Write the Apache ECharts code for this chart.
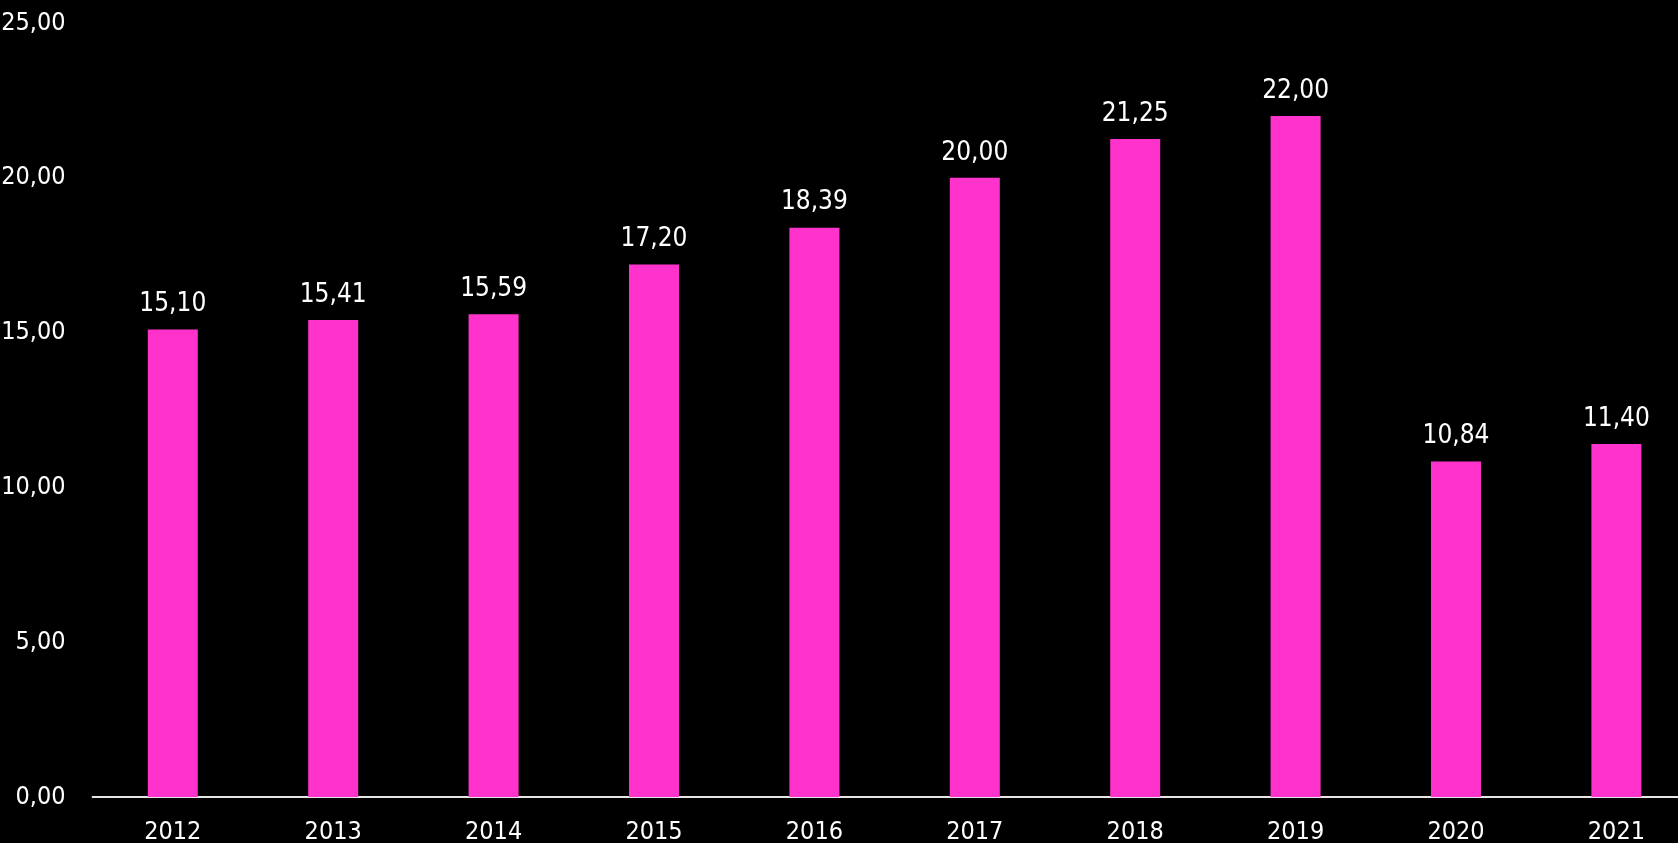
<!DOCTYPE html>
<html>
<head>
<meta charset="utf-8">
<script src="https://cdn.jsdelivr.net/npm/echarts@6/dist/echarts.min.js"></script>
<style>
html,body{margin:0;padding:0;background:#000;}
#c{width:1678px;height:843px;}
</style>
</head>
<body>
<div id="c"></div>
<script>
const categories = ['2012','2013','2014','2015','2016','2017','2018','2019','2020','2021'];
const values = [15.10, 15.41, 15.59, 17.20, 18.39, 20.00, 21.25, 22.00, 10.84, 11.40];
const yTicks = [0, 5, 10, 15, 20, 25];

const FONT = '"Liberation Sans Narrow", "DejaVu Sans Condensed", "Noto Sans", sans-serif';
const fmt = v => Number(v).toFixed(2).replace('.', ',');

const chart = echarts.init(document.getElementById('c'));
chart.setOption({
  backgroundColor: '#000000',
  animation: false,
  grid: { left: 92.6, width: 1604, top: 23, bottom: 46, containLabel: false, outerBoundsMode: 'none' },
  xAxis: {
    type: 'category',
    data: categories,
    axisLine: { show: true, lineStyle: { color: '#e6e6e6', width: 2 } },
    axisTick: { show: false },
    axisLabel: { color: '#ffffff', fontFamily: FONT, fontSize: 25, margin: 23 }
  },
  yAxis: {
    type: 'value',
    min: yTicks[0],
    max: yTicks[yTicks.length - 1],
    interval: yTicks[1] - yTicks[0],
    splitLine: { show: false },
    axisLine: { show: false },
    axisTick: { show: false },
    axisLabel: { color: '#ffffff', fontFamily: FONT, fontSize: 25, margin: 27, formatter: v => fmt(v) }
  },
  series: [{
    type: 'bar',
    data: values,
    barWidth: 50,
    itemStyle: { color: '#ff33cc' },
    label: {
      show: true,
      position: 'top',
      distance: 12,
      color: '#ffffff',
      fontFamily: FONT,
      fontSize: 26,
      formatter: p => fmt(p.value)
    }
  }]
});
</script>
</body>
</html>
